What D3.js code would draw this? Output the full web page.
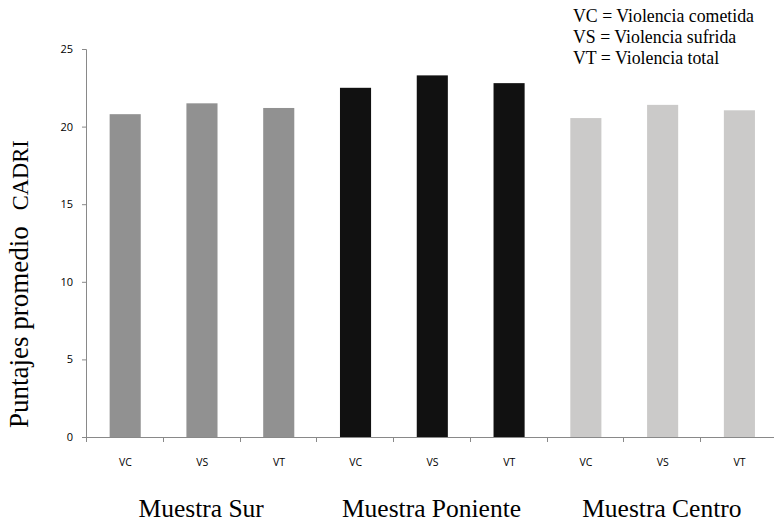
<!DOCTYPE html>
<html>
<head>
<meta charset="utf-8">
<script src="https://cdn.jsdelivr.net/npm/d3@7"></script>
<style>
  html, body { margin: 0; padding: 0; background: #fff; }
  svg { display: block; }
</style>
</head>
<body>
<svg id="chart" width="774" height="523"></svg>
<script>
// ---- data ----
const groups = ["Muestra Sur", "Muestra Poniente", "Muestra Centro"];
const tickLabels = ["VC", "VS", "VT", "VC", "VS", "VT", "VC", "VS", "VT"];
const values = [20.8, 21.5, 21.2, 22.5, 23.3, 22.8, 20.55, 21.4, 21.05];
const groupOfBar = [0, 0, 0, 1, 1, 1, 2, 2, 2];
const groupColors = ["#919191", "#111111", "#cbcac9"];
const yTicks = [0, 5, 10, 15, 20, 25];
const legendLines = ["VC = Violencia cometida", "VS = Violencia sufrida", "VT = Violencia total"];

// ---- layout ----
const svg = d3.select("#chart");
const x0 = 86, x1 = 777, yTop = 49, yBot = 437;
const axisColor = "#898989";

const x = d3.scaleBand().domain(d3.range(values.length)).range([x0, x1]).padding(0);
const y = d3.scaleLinear().domain([0, 25]).range([yBot, yTop]);

// bars
const bw = x.bandwidth() * 0.405;
svg.append("g").selectAll("rect").data(values).join("rect")
  .attr("x", (d, i) => x(i) + (x.bandwidth() - bw) / 2 + 0.8)
  .attr("y", d => y(d))
  .attr("width", bw)
  .attr("height", d => y(0) - y(d))
  .attr("fill", (d, i) => groupColors[groupOfBar[i]]);

// y axis
const yAxis = d3.axisLeft(y).tickValues(yTicks).tickSize(4).tickPadding(9);
const gy = svg.append("g").attr("transform", `translate(${x0},0)`).call(yAxis);
gy.select(".domain").attr("stroke", axisColor).attr("d", `M-4,${yTop + 0.5}H0.5V${yBot + 0.5}`);
gy.selectAll(".tick line").attr("stroke", axisColor);
gy.selectAll(".tick text").attr("font-family", "'Open Sans', sans-serif").attr("font-size", 11).attr("fill", "#000");

// x axis
const xTickPos = d3.range(values.length + 1).map(i => x0 + i * x.step());
svg.append("line").attr("x1", x0).attr("x2", 774).attr("y1", yBot + 0.5).attr("y2", yBot + 0.5)
  .attr("stroke", axisColor);
svg.append("g").selectAll("line").data(xTickPos).join("line")
  .attr("x1", d => Math.round(d) + 0.5).attr("x2", d => Math.round(d) + 0.5)
  .attr("y1", yBot).attr("y2", yBot + 5)
  .attr("stroke", axisColor);
svg.append("g").selectAll("text").data(tickLabels).join("text")
  .attr("x", (d, i) => x(i) + x.bandwidth() / 2 + 1)
  .attr("y", 466)
  .attr("text-anchor", "middle")
  .attr("font-family", "'Open Sans', sans-serif")
  .attr("font-size", 10.5)
  .text(d => d);

// group labels
svg.append("g").selectAll("text").data(groups).join("text")
  .attr("x", (d, gi) => x(gi * 3) + x.step() * 1.5)
  .attr("y", 517)
  .attr("text-anchor", "middle")
  .attr("font-family", "'Liberation Serif', 'Times New Roman', serif")
  .attr("font-size", 25.5)
  .text(d => d);

// y title
const yt = svg.append("text")
  .attr("transform", "translate(28,428) rotate(-90)")
  .attr("font-family", "'Liberation Serif', 'Times New Roman', serif")
  .attr("fill", "#000");
yt.append("tspan").attr("font-size", 27).text("Puntajes promedio");
yt.append("tspan").attr("font-size", 22.5).attr("dx", 16).text("CADRI");

// legend
svg.append("g").selectAll("text").data(legendLines).join("text")
  .attr("x", 573)
  .attr("y", (d, i) => 22 + i * 21)
  .attr("font-family", "'Liberation Serif', 'Times New Roman', serif")
  .attr("font-size", 17.8)
  .text(d => d);
</script>
</body>
</html>
